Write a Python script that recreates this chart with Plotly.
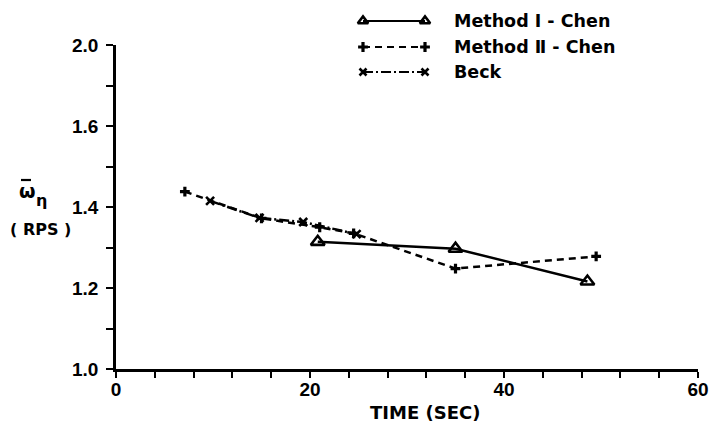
import plotly.graph_objects as go

# Mean natural frequency estimates versus time
method1_time = [20.8, 35.0, 48.6]
method1_freq = [1.314, 1.297, 1.216]

method2_time = [7.1, 15.0, 21.0, 24.5, 35.0, 49.5]
method2_freq = [1.438, 1.372, 1.350, 1.335, 1.248, 1.278]

beck_time = [9.7, 14.8, 19.3, 24.8]
beck_freq = [1.415, 1.373, 1.363, 1.333]

x_tick_vals = [0, 20, 40, 60]
x_tick_text = ["0", "20", "40", "60"]
y_tick_vals = [1.0, 1.2, 1.4, 1.6, 1.8]
y_tick_text = ["1.0", "1.2", "1.4", "1.6", "2.0"]

series_names = ["Method Ⅰ - Chen", "Method Ⅱ - Chen", "Beck"]

W, H = 710, 433
FONT = "Liberation Sans"
LABEL_FONT = "DejaVu Sans"
INK = "black"

styles = [
    dict(dash="solid", symbol="triangle-up-open", size=12, lsize=9, mw=2.6),
    dict(dash="7px,5px", symbol="cross-thin-open", size=7, lsize=7, mw=3.2),
    dict(dash="10px,3px,2px,3px", symbol="x-thin-open", size=8, lsize=7, mw=2.6),
]

fig = go.Figure()

for (t, f), name, st in zip(
    [(method1_time, method1_freq), (method2_time, method2_freq), (beck_time, beck_freq)],
    series_names,
    styles,
):
    fig.add_trace(
        go.Scatter(
            x=t,
            y=f,
            name=name,
            mode="lines+markers",
            line=dict(color=INK, width=2.5, dash=st["dash"]),
            marker=dict(symbol=st["symbol"], size=st["size"], color=INK,
                        line=dict(color=INK, width=st["mw"])),
            showlegend=False,
            xaxis="x",
            yaxis="y",
        )
    )

# Key in the upper right: a short line with a marker at each end, then the label
key_rows = [21, 47, 72]
key_x0, key_x1, key_text_x = 363, 425, 452
for row_y, name, st in zip(key_rows, series_names, styles):
    fig.add_trace(
        go.Scatter(
            x=[key_x0, key_x1],
            y=[row_y, row_y],
            mode="lines+markers",
            line=dict(color=INK, width=2.2, dash=st["dash"]),
            marker=dict(symbol=st["symbol"], size=st["lsize"], color=INK,
                        line=dict(color=INK, width=st["mw"])),
            showlegend=False,
            hoverinfo="skip",
            xaxis="x2",
            yaxis="y2",
        )
    )
    fig.add_annotation(
        x=key_text_x, y=row_y, xref="x2", yref="y2",
        text=name, showarrow=False, xanchor="left", yanchor="middle",
        font=dict(family=LABEL_FONT, size=17.5, color=INK, weight="bold"),
    )

# Axis titles
fig.add_annotation(
    x=425, y=412, xref="x2", yref="y2", text="TIME (SEC)", showarrow=False,
    font=dict(family=LABEL_FONT, size=18, color=INK, weight="bold"),
)
fig.add_annotation(
    x=27, y=191, xref="x2", yref="y2", text="ω", showarrow=False,
    font=dict(family=LABEL_FONT, size=19, color=INK, weight="bold"),
)
fig.add_annotation(
    x=41, y=200, xref="x2", yref="y2", text="η", showarrow=False,
    font=dict(family=LABEL_FONT, size=16, color=INK, weight="bold"),
)
fig.add_annotation(
    x=40, y=229, xref="x2", yref="y2", text="( RPS )", showarrow=False,
    font=dict(family=LABEL_FONT, size=16, color=INK, weight="bold"),
)
# Bar over the omega
fig.add_shape(type="line", xref="x2", yref="y2", x0=21, x1=31, y0=180, y1=180,
              line=dict(color=INK, width=2.2))

x0px, x1px = 116, 698
ytop, ybot = 45, 369

tick_font = dict(family=FONT, size=19, color=INK, weight="bold")

fig.update_layout(
    width=W,
    height=H,
    margin=dict(l=0, r=0, t=0, b=0, autoexpand=False),
    paper_bgcolor="white",
    plot_bgcolor="rgba(0,0,0,0)",
    showlegend=False,
    xaxis=dict(
        domain=[x0px / W, x1px / W],
        range=[0, 60],
        tickvals=x_tick_vals,
        ticktext=x_tick_text,
        ticks="outside",
        ticklen=6,
        tickwidth=2,
        tickcolor=INK,
        minor=dict(dtick=4, tick0=0, ticks="outside", ticklen=6, tickwidth=2,
                   tickcolor=INK, showgrid=False),
        showline=True,
        linecolor=INK,
        linewidth=2.5,
        showgrid=False,
        zeroline=False,
        tickfont=tick_font,
        ticklabelstandoff=-5,
        automargin=False,
        anchor="y",
    ),
    yaxis=dict(
        domain=[1 - ybot / H, 1 - ytop / H],
        range=[1.0, 1.8],
        tickvals=y_tick_vals,
        ticktext=y_tick_text,
        ticks="outside",
        ticklen=7,
        tickwidth=2,
        tickcolor=INK,
        minor=dict(dtick=0.1, tick0=1.0, ticks="outside", ticklen=7, tickwidth=2,
                   tickcolor=INK, showgrid=False),
        showline=True,
        linecolor=INK,
        linewidth=2.5,
        showgrid=False,
        zeroline=False,
        tickfont=tick_font,
        ticklabelstandoff=4,
        automargin=False,
        anchor="x",
    ),
    xaxis2=dict(domain=[0, 1], range=[0, W], visible=False, fixedrange=True,
                automargin=False, anchor="y2"),
    yaxis2=dict(domain=[0, 1], range=[H, 0], visible=False, fixedrange=True,
                automargin=False, anchor="x2"),
)

fig.write_html("out.html")
